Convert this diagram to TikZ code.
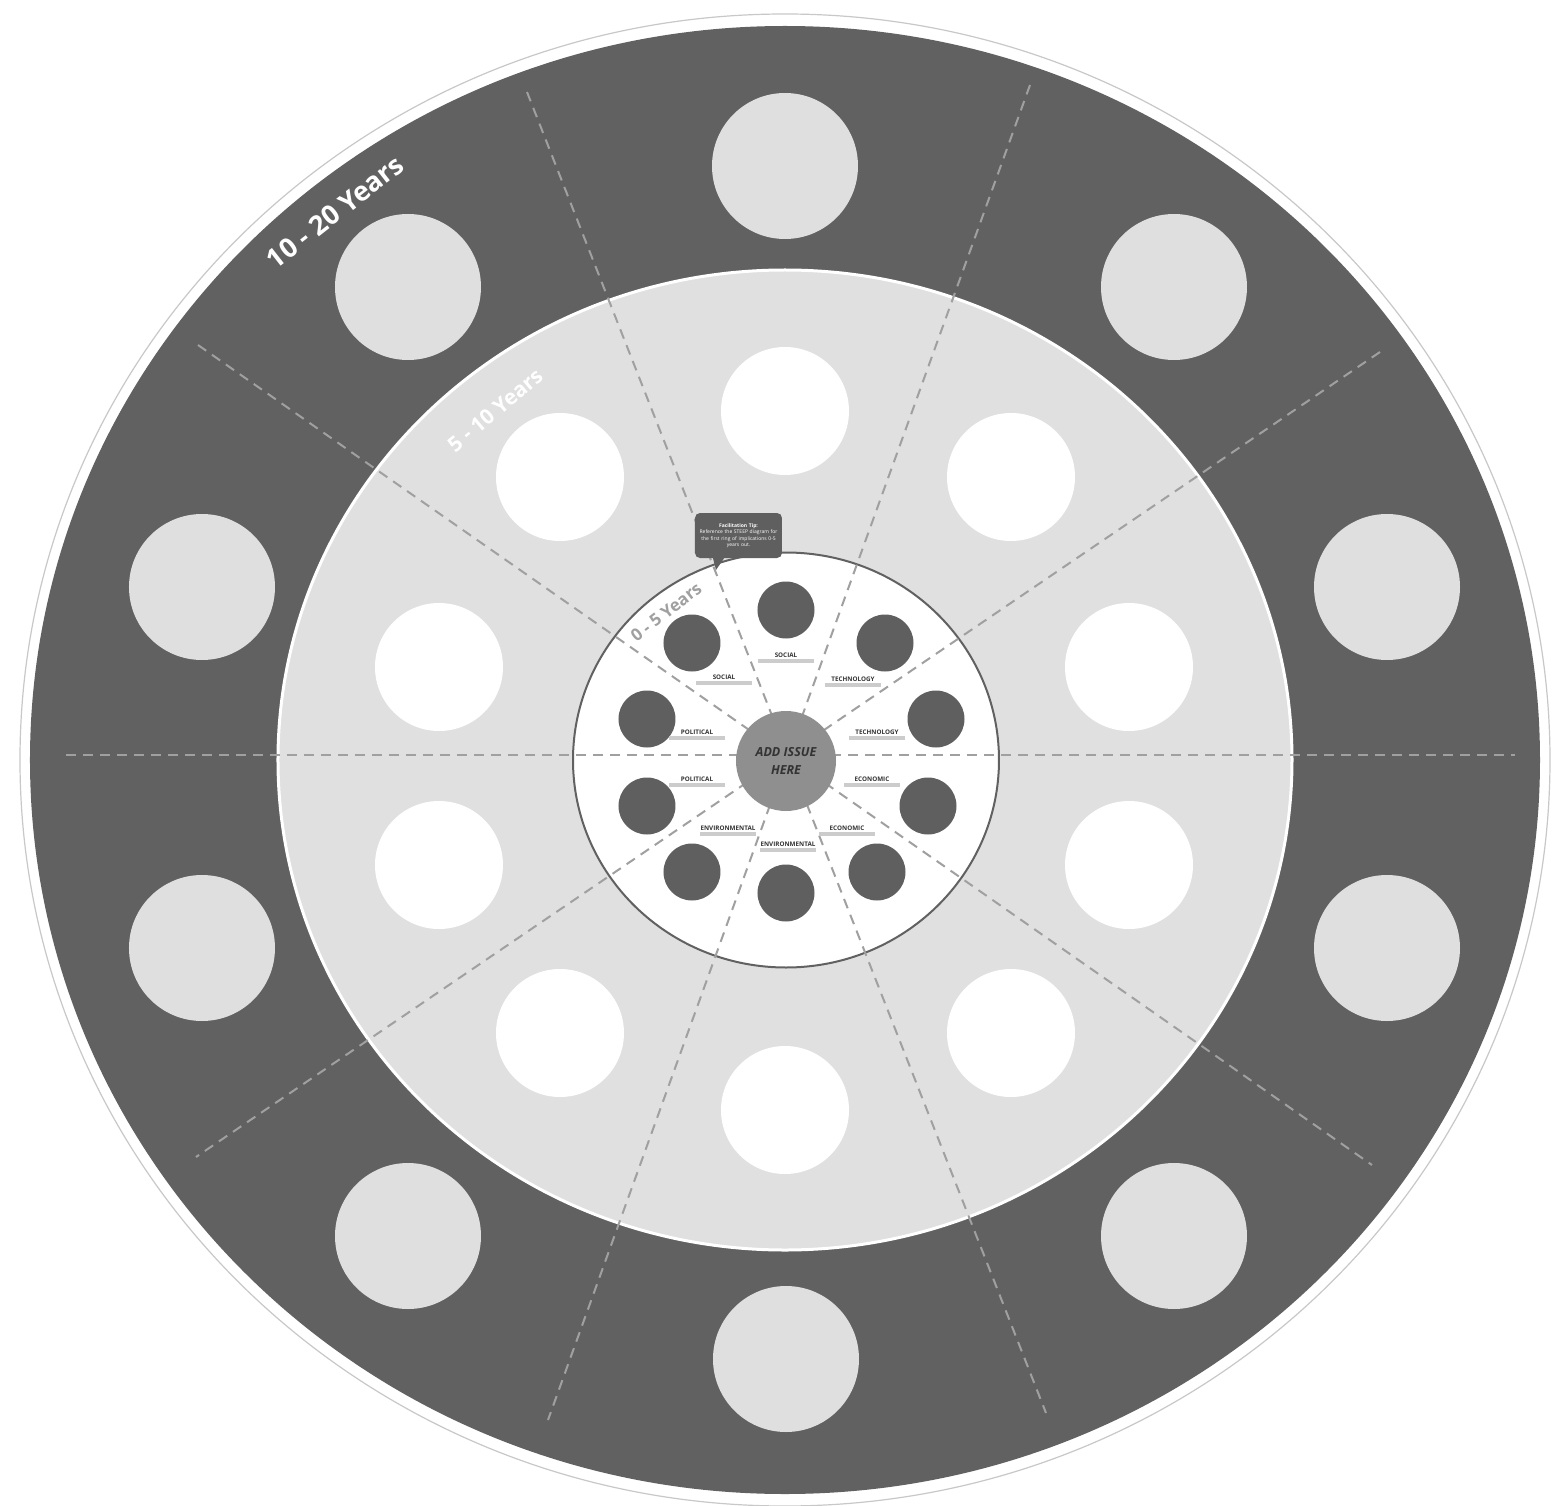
\documentclass[tikz,border=0pt]{standalone}
\usepackage{fontspec}
\setmainfont{Open Sans}
\usepackage{tikz}
\usetikzlibrary{positioning, calc, shapes.geometric}
\definecolor{ringdark}{HTML}{616161}
\definecolor{ringlight}{HTML}{E0E0E0}
\definecolor{dotlight}{HTML}{DFDFDF}
\definecolor{dotdark}{HTML}{5F5F5F}
\definecolor{hubgrey}{HTML}{8F8F8F}
\definecolor{dashgrey}{HTML}{A0A0A0}
\definecolor{rimgrey}{HTML}{C8C8C8}
\definecolor{bargrey}{HTML}{CCCCCC}
\definecolor{textdark}{HTML}{333333}
\tikzset{
  outerdot/.style={circle, fill=dotlight, minimum size=146pt, inner sep=0pt},
  middot/.style={circle, fill=white, minimum size=128pt, inner sep=0pt},
  innerdot/.style={circle, fill=dotdark, minimum size=57pt, inner sep=0pt},
  hub/.style={circle, fill=hubgrey, minimum size=100pt, inner sep=0pt, align=center,
    text=textdark, font=\fontsize{12.5}{18}\selectfont\bfseries\itshape},
  tag/.style={font=\fontsize{6.3}{7}\selectfont\bfseries, text=textdark,
    inner sep=0.5pt, text height=4.6pt, text depth=0pt},
  tagbar/.style={rectangle, fill=bargrey, minimum width=56pt, minimum height=4pt,
    inner sep=0pt},
  divider/.style={dashgrey, line width=2pt, dash pattern=on 10pt off 7pt},
  yearlbl/.style={font=\bfseries, inner sep=0pt},
  tipbox/.style={rectangle, fill=dotdark, rounded corners=5pt, minimum width=87pt,
    minimum height=45pt, text width=83pt, align=center, inner sep=1pt, text=white,
    font=\fontsize{5}{6.5}\selectfont},
}

\begin{document}
\begin{tikzpicture}[x=1pt, y=1pt]
\useasboundingbox[fill=white] (-785,-745) rectangle (770,760);

% Rings
\draw[rimgrey, line width=1.2pt] (0,0) ellipse [x radius=765pt, y radius=746pt];
\fill[ringdark] (0,0) ellipse [x radius=755pt, y radius=734pt];
\draw[white, line width=3pt, fill=ringlight] (0,0) ellipse [x radius=507pt, y radius=490pt];
\draw[ringdark, line width=2pt, fill=white] (1,0) ellipse [x radius=213pt, y radius=207.5pt];

% Sector dividers
\draw[divider] (-719,5) -- (730,5);
\draw[divider] (-587,415) -- (587,-405);
\draw[divider] (595,408) -- (-589,-397);
\draw[divider] (-258,668) -- (261,-653);
\draw[divider] (245,675) -- (-237,-660);

% 10 - 20 years
\node[outerdot] (far1) at (0,594) {};
\node[outerdot] (far2) at (389,473) {};
\node[outerdot] (far3) at (602,173) {};
\node[outerdot] (far4) at (602,-188) {};
\node[outerdot] (far5) at (389,-476) {};
\node[outerdot] (far6) at (1,-599) {};
\node[outerdot] (far7) at (-377,-476) {};
\node[outerdot] (far8) at (-583,-188) {};
\node[outerdot] (far9) at (-583,173) {};
\node[outerdot] (far10) at (-377,473) {};

% 5 - 10 years
\node[middot] (mid1) at (0,349) {};
\node[middot] (mid2) at (226,283) {};
\node[middot] (mid3) at (344,93) {};
\node[middot] (mid4) at (344,-105) {};
\node[middot] (mid5) at (226,-273) {};
\node[middot] (mid6) at (0,-350) {};
\node[middot] (mid7) at (-225,-273) {};
\node[middot] (mid8) at (-346,-105) {};
\node[middot] (mid9) at (-346,93) {};
\node[middot] (mid10) at (-225,283) {};

% 0 - 5 years
\node[innerdot] (near1) at (1,150) {};
\node[innerdot] (near2) at (100,117) {};
\node[innerdot] (near3) at (151,41) {};
\node[innerdot] (near4) at (143,-46) {};
\node[innerdot] (near5) at (92,-112) {};
\node[innerdot] (near6) at (1,-133) {};
\node[innerdot] (near7) at (-93,-112) {};
\node[innerdot] (near8) at (-138,-46) {};
\node[innerdot] (near9) at (-138,41) {};
\node[innerdot] (near10) at (-93,117) {};

\node[hub] (issue) at (1,-1) {ADD ISSUE\\HERE};

% STEEP tags
\node[tag] (soc1) at (1,105) {SOCIAL};
\node[tag] (soc2) at (-61,83) {SOCIAL};
\node[tag] (tech1) at (68,81) {TECHNOLOGY};
\node[tag] (tech2) at (92,28) {TECHNOLOGY};
\node[tag] (pol1) at (-88,28) {POLITICAL};
\node[tag] (pol2) at (-88,-19) {POLITICAL};
\node[tag] (eco1) at (87,-19) {ECONOMIC};
\node[tag] (eco2) at (62,-68) {ECONOMIC};
\node[tag] (env1) at (-57,-68) {ENVIRONMENTAL};
\node[tag] (env2) at (3,-84) {ENVIRONMENTAL};
\node[tagbar, below=1pt of soc1] {};
\node[tagbar, below=1pt of soc2] {};
\node[tagbar, below=1pt of tech1] {};
\node[tagbar, below=1pt of tech2] {};
\node[tagbar, below=1pt of pol1] {};
\node[tagbar, below=1pt of pol2] {};
\node[tagbar, below=1pt of eco1] {};
\node[tagbar, below=1pt of eco2] {};
\node[tagbar, below=1pt of env1] {};
\node[tagbar, below=1pt of env2] {};

% Ring labels
\node[yearlbl, white, font=\fontsize{27}{30}\selectfont\bfseries, rotate=38] (lbl20) at (-450,548) {10 - 20 Years};
\node[yearlbl, white, font=\fontsize{21}{24}\selectfont\bfseries, rotate=40] (lbl10) at (-290,350) {5 - 10 Years};
\node[yearlbl, dashgrey, font=\fontsize{17}{20}\selectfont\bfseries, rotate=38] (lbl5) at (-119,148) {0 - 5 Years};

% Callout
\node[tipbox] (tip) at (-46.5,224.5) {{\bfseries Facilitation Tip:}\\Reference the STEEP diagram for\\the first ring of implications 0-5\\years out.};
\fill[dotdark] ($(tip.south west)+(18,1)$) -- (-69,190) -- ($(tip.south west)+(30,1)$) -- cycle;

\end{tikzpicture}
\end{document}
